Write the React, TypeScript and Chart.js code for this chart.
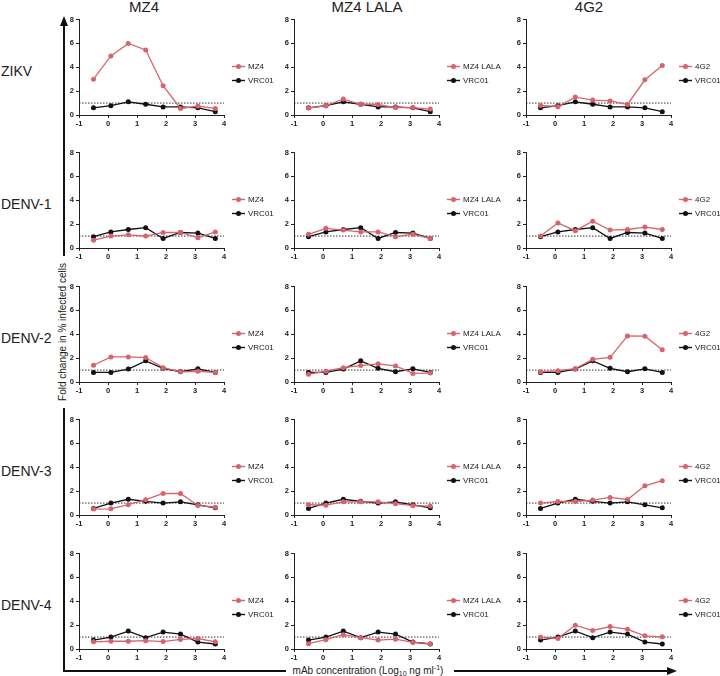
import React, { useEffect, useRef } from "react";
import Chart from "chart.js/auto";

// log10 ng/ml concentrations shared by every panel
const concentrations = [-0.5, 0.1, 0.7, 1.3, 1.9, 2.5, 3.1, 3.7];
const antibodies = ["MZ4", "MZ4 LALA", "4G2"];
const viruses = ["ZIKV", "DENV-1", "DENV-2", "DENV-3", "DENV-4"];
const baselineX = [-1, 4];
const baselineY = [1, 1];

// fold change, one array per virus x antibody (VRC01 is the isotype control)
const zikvMZ4 = [3.0, 4.95, 6.0, 5.45, 2.45, 0.55, 0.75, 0.55];
const zikvMZ4LALA = [0.58, 0.78, 1.33, 0.9, 0.88, 0.62, 0.62, 0.5];
const zikv4G2 = [0.8, 0.7, 1.5, 1.25, 1.18, 0.88, 2.95, 4.15];
const zikvVRC01 = [0.6, 0.78, 1.1, 0.9, 0.68, 0.68, 0.6, 0.28];

const denv1MZ4 = [0.65, 1.0, 1.1, 1.0, 1.3, 1.3, 0.85, 1.35];
const denv1MZ4LALA = [1.15, 1.65, 1.5, 1.35, 1.35, 0.95, 1.15, 0.8];
const denv14G2 = [1.0, 2.1, 1.45, 2.25, 1.5, 1.55, 1.75, 1.55];
const denv1VRC01 = [0.95, 1.35, 1.55, 1.7, 0.8, 1.3, 1.25, 0.8];

const denv2MZ4 = [1.4, 2.1, 2.1, 2.05, 1.2, 0.85, 0.9, 0.8];
const denv2MZ4LALA = [0.65, 0.9, 1.2, 1.38, 1.52, 1.35, 0.72, 0.75];
const denv24G2 = [0.85, 0.95, 1.12, 1.9, 2.07, 3.86, 3.84, 2.7];
const denv2VRC01 = [0.8, 0.8, 1.08, 1.77, 1.15, 0.86, 1.1, 0.8];

const denv3MZ4 = [0.5, 0.52, 0.86, 1.28, 1.8, 1.8, 0.8, 0.65];
const denv3MZ4LALA = [0.86, 0.82, 1.1, 1.1, 1.1, 0.95, 0.78, 0.75];
const denv34G2 = [1.0, 1.13, 1.13, 1.25, 1.47, 1.3, 2.45, 2.87];
const denv3VRC01 = [0.55, 1.0, 1.32, 1.15, 1.0, 1.1, 0.85, 0.6];

const denv4MZ4 = [0.6, 0.65, 0.65, 0.7, 0.62, 0.8, 0.88, 0.6];
const denv4MZ4LALA = [0.45, 0.78, 1.2, 0.95, 0.75, 0.82, 0.55, 0.45];
const denv44G2 = [1.0, 0.88, 2.0, 1.55, 1.88, 1.65, 1.1, 1.02];
const denv4VRC01 = [0.75, 1.0, 1.5, 0.95, 1.42, 1.25, 0.58, 0.42];

const antibodyData = [
  [zikvMZ4, zikvMZ4LALA, zikv4G2],
  [denv1MZ4, denv1MZ4LALA, denv14G2],
  [denv2MZ4, denv2MZ4LALA, denv24G2],
  [denv3MZ4, denv3MZ4LALA, denv34G2],
  [denv4MZ4, denv4MZ4LALA, denv44G2],
];
const controlData = [zikvVRC01, denv1VRC01, denv2VRC01, denv3VRC01, denv4VRC01];

const RED = "#d8646b";
const BLACK = "#111111";
const FONT = "'Liberation Sans', Arial, sans-serif";

// layout
const colLeft = [79, 294, 526];
const legendW = [72, 80, 49];
const titleX = [144, 367, 589];
const rowTop = [19, 152, 286, 419, 553];
const PLOT_W = 145;
const PLOT_H = 96;
const Y_AXIS_W = 24;
const PAD_TOP = 6;
const X_AXIS_H = 16;

// legend drawn to the right of the plot area: short line with a dot, then the label
const sideLegend = {
  id: "sideLegend",
  afterDraw(chart: Chart) {
    const { ctx, chartArea } = chart;
    const items = chart.data.datasets.filter((d: any) => d.label);
    items.forEach((ds: any, i: number) => {
      const y = chartArea.top + 47 + i * 14;
      const x0 = chartArea.right + 8;
      ctx.save();
      ctx.strokeStyle = ds.borderColor;
      ctx.fillStyle = ds.borderColor;
      ctx.lineWidth = 1.4;
      ctx.beginPath();
      ctx.moveTo(x0, y);
      ctx.lineTo(x0 + 13, y);
      ctx.stroke();
      ctx.beginPath();
      ctx.arc(x0 + 6.5, y, 2.5, 0, Math.PI * 2);
      ctx.fill();
      ctx.fillStyle = "#222";
      ctx.font = `8px ${FONT}`;
      ctx.textBaseline = "middle";
      ctx.fillText(ds.label, x0 + 16, y + 0.5);
      ctx.restore();
    });
  },
};

interface PanelProps {
  row: number;
  col: number;
}

const Panel: React.FC<PanelProps> = ({ row, col }) => {
  const canvasRef = useRef<HTMLCanvasElement>(null);
  const width = Y_AXIS_W + PLOT_W + legendW[col];
  const height = PAD_TOP + PLOT_H + X_AXIS_H;

  useEffect(() => {
    if (!canvasRef.current) return;
    const tickFont = { family: FONT, size: 7.5, weight: "bold" as const };
    const chart = new Chart(canvasRef.current, {
      type: "line",
      data: {
        datasets: [
          {
            label: antibodies[col],
            data: concentrations.map((x, i) => ({ x, y: antibodyData[row][col][i] })),
            borderColor: RED,
            backgroundColor: RED,
            borderWidth: 1.3,
            pointRadius: 2.5,
            pointBorderWidth: 0,
          },
          {
            label: "VRC01",
            data: concentrations.map((x, i) => ({ x, y: controlData[row][i] })),
            borderColor: BLACK,
            backgroundColor: BLACK,
            borderWidth: 1.3,
            pointRadius: 2.5,
            pointBorderWidth: 0,
          },
          {
            label: "",
            data: baselineX.map((x, i) => ({ x, y: baselineY[i] })),
            borderColor: "#333",
            borderWidth: 1,
            borderDash: [1.5, 1.5],
            pointRadius: 0,
          },
        ],
      },
      options: {
        animation: false,
        responsive: false,
        devicePixelRatio: 1,
        layout: { padding: { top: PAD_TOP, right: legendW[col], left: 0, bottom: 0 } },
        plugins: { legend: { display: false }, tooltip: { enabled: false } },
        scales: {
          x: {
            type: "linear",
            min: -1,
            max: 4,
            ticks: { stepSize: 1, font: tickFont, color: "#222", padding: 1 },
            grid: { drawOnChartArea: false, drawTicks: true, tickLength: 3, color: "#222" },
            border: { color: "#222", width: 1 },
            afterFit: (s: any) => {
              s.height = X_AXIS_H;
            },
          },
          y: {
            min: 0,
            max: 8,
            ticks: { stepSize: 2, font: tickFont, color: "#222", padding: 2 },
            grid: { drawOnChartArea: false, drawTicks: true, tickLength: 3, color: "#222" },
            border: { color: "#222", width: 1 },
            afterFit: (s: any) => {
              s.width = Y_AXIS_W;
            },
          },
        },
      },
      plugins: [sideLegend],
    });
    return () => chart.destroy();
  }, [row, col]);

  return (
    <canvas
      ref={canvasRef}
      width={width}
      height={height}
      style={{
        position: "absolute",
        left: colLeft[col] - Y_AXIS_W,
        top: rowTop[row] - PAD_TOP,
        width,
        height,
      }}
    />
  );
};

const App: React.FC = () => {
  const text: React.CSSProperties = {
    position: "absolute",
    fontFamily: FONT,
    color: "#222",
    whiteSpace: "nowrap",
    lineHeight: 1,
  };
  return (
    <div
      style={{
        position: "absolute",
        left: 0,
        top: 0,
        width: 720,
        height: 676,
        background: "#fff",
        overflow: "hidden",
      }}
    >
      <svg width={720} height={676} style={{ position: "absolute", left: 0, top: 0 }}>
        <g stroke="#111" strokeWidth={2} fill="none">
          <line x1={64} y1={24} x2={64} y2={256} />
          <line x1={64} y1={408} x2={64} y2={672} />
          <line x1={63} y1={671} x2={286} y2={671} />
          <line x1={454} y1={671} x2={668} y2={671} />
        </g>
        <polygon points="64,16 60,26 68,26" fill="#111" />
        <polygon points="677,671 667,667 667,675" fill="#111" />
      </svg>

      {antibodies.map((name, c) => (
        <div key={name} style={{ ...text, fontSize: 15, left: titleX[c], top: 6, transform: "translate(-50%,-50%)" }}>
          {name}
        </div>
      ))}
      {viruses.map((name, r) => (
        <div key={name} style={{ ...text, fontSize: 14, left: 1, top: rowTop[r] + 52, transform: "translateY(-50%)" }}>
          {name}
        </div>
      ))}

      <div
        style={{
          ...text,
          fontSize: 10,
          left: 63,
          top: 332,
          transform: "translate(-50%,-50%) rotate(-90deg)",
        }}
      >
        Fold change in % infected cells
      </div>
      <div style={{ ...text, fontSize: 10, left: 368, top: 671, transform: "translate(-50%,-50%)" }}>
        mAb concentration (Log
        <span style={{ fontSize: 7, position: "relative", top: 2 }}>10</span> ng ml
        <span style={{ fontSize: 7, position: "relative", top: -4 }}>-1</span>)
      </div>

      {viruses.map((v, r) => antibodies.map((a, c) => <Panel key={`${v}-${a}`} row={r} col={c} />))}
    </div>
  );
};

export default App;
